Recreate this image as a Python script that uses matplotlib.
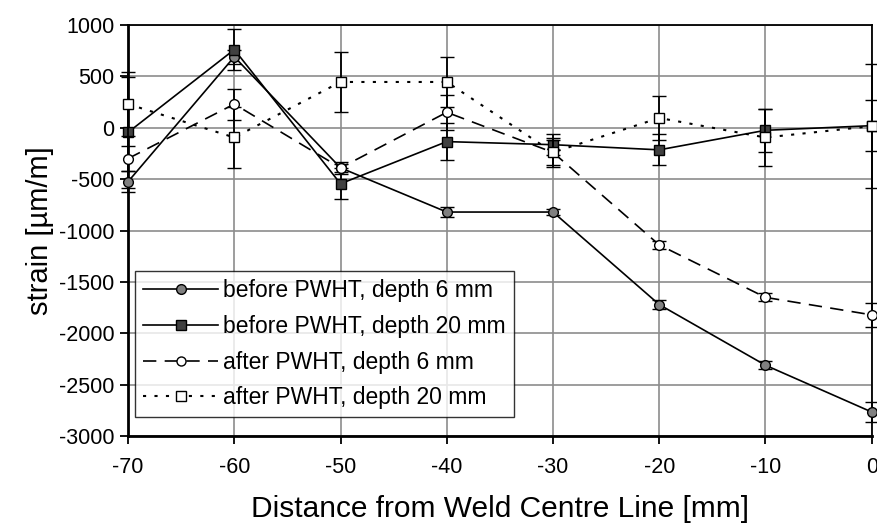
import matplotlib.pyplot as plt
from matplotlib.lines import Line2D

plt.rcParams["font.family"] = ["Liberation Sans", "DejaVu Sans"]
plt.rcParams["axes.unicode_minus"] = False

distance = [-70, -60, -50, -40, -30, -20, -10, 0]

before_6 = [-525, 690, -390, -820, -820, -1720, -2310, -2765]
before_6_err = [100, 70, 40, 50, 30, 40, 40, 100]

before_20 = [-45, 760, -545, -135, -165, -215, -25, 20]
before_20_err = [540, 200, 150, 180, 105, 150, 210, 250]

after_6 = [-300, 230, -390, 150, -240, -1140, -1650, -1820]
after_6_err = [120, 150, 60, 170, 120, 40, 40, 120]

after_20 = [230, -95, 445, 445, -240, 95, -95, 15]
after_20_err = [310, 295, 290, 245, 140, 210, 280, 600]

labels = ["before PWHT, depth 6 mm", "before PWHT, depth 20 mm",
          "after PWHT, depth 6 mm", "after PWHT, depth 20 mm"]

fig = plt.figure(figsize=(8.77, 5.3), dpi=100)
ax = fig.add_axes([0.146, 0.177, 0.848, 0.776])

series = [
    (before_6, before_6_err, "-", 1.2, "o", "#808080", 4),
    (before_20, before_20_err, "-", 1.2, "s", "#404040", 4),
    (after_6, after_6_err, (0, (8, 5)), 1.2, "o", "white", 5),
    (after_20, after_20_err, (0, (1.5, 4)), 1.5, "s", "white", 5),
]

handles = []
for (vals, err, ls, lw, mk, fc, z), lab in zip(series, labels):
    eb = ax.errorbar(distance, vals, yerr=err, color="black", lw=lw, linestyle=ls,
                     marker=mk, markerfacecolor=fc, markeredgecolor="black",
                     markeredgewidth=1.0, markersize=7, ecolor="black",
                     elinewidth=1.3, capsize=5, capthick=1.3, zorder=z)
    for art in [eb[0], *eb[1], *eb[2]]:
        art.set_clip_on(False)
    handles.append(Line2D([], [], color="black", lw=lw, linestyle=ls, marker=mk,
                          markerfacecolor=fc, markeredgecolor="black",
                          markersize=7 if fc != "white" else 6.5))

ax.set_xlim(-70, 0)
ax.set_ylim(-3000, 1000)
ax.set_xticks(range(-70, 1, 10))
ax.set_yticks(range(-3000, 1001, 500))
ax.grid(True, color="#8c8c8c", lw=1.2)
ax.set_axisbelow(True)
for s in ax.spines.values():
    s.set_linewidth(1.3)
ax.spines["left"].set_linewidth(2)
ax.spines["bottom"].set_linewidth(2)
ax.tick_params(axis="both", labelsize=15.5, length=6, width=1.3, direction="out")
ax.tick_params(axis="x", pad=9)
ax.tick_params(axis="y", pad=4)

ax.set_xlabel("Distance from Weld Centre Line [mm]", fontsize=21.5, labelpad=12)
ax.set_ylabel("strain [µm/m]", fontsize=21, labelpad=3)

leg = ax.legend(handles, labels, loc="lower left", bbox_to_anchor=(0.009, 0.046),
                fontsize=16.5, frameon=True, fancybox=False, edgecolor="black",
                handlelength=3.3, handletextpad=0.2, borderpad=0.35,
                labelspacing=0.55, borderaxespad=0)
leg.get_frame().set_linewidth(1.0)

fig.savefig("out.png", dpi=100)
